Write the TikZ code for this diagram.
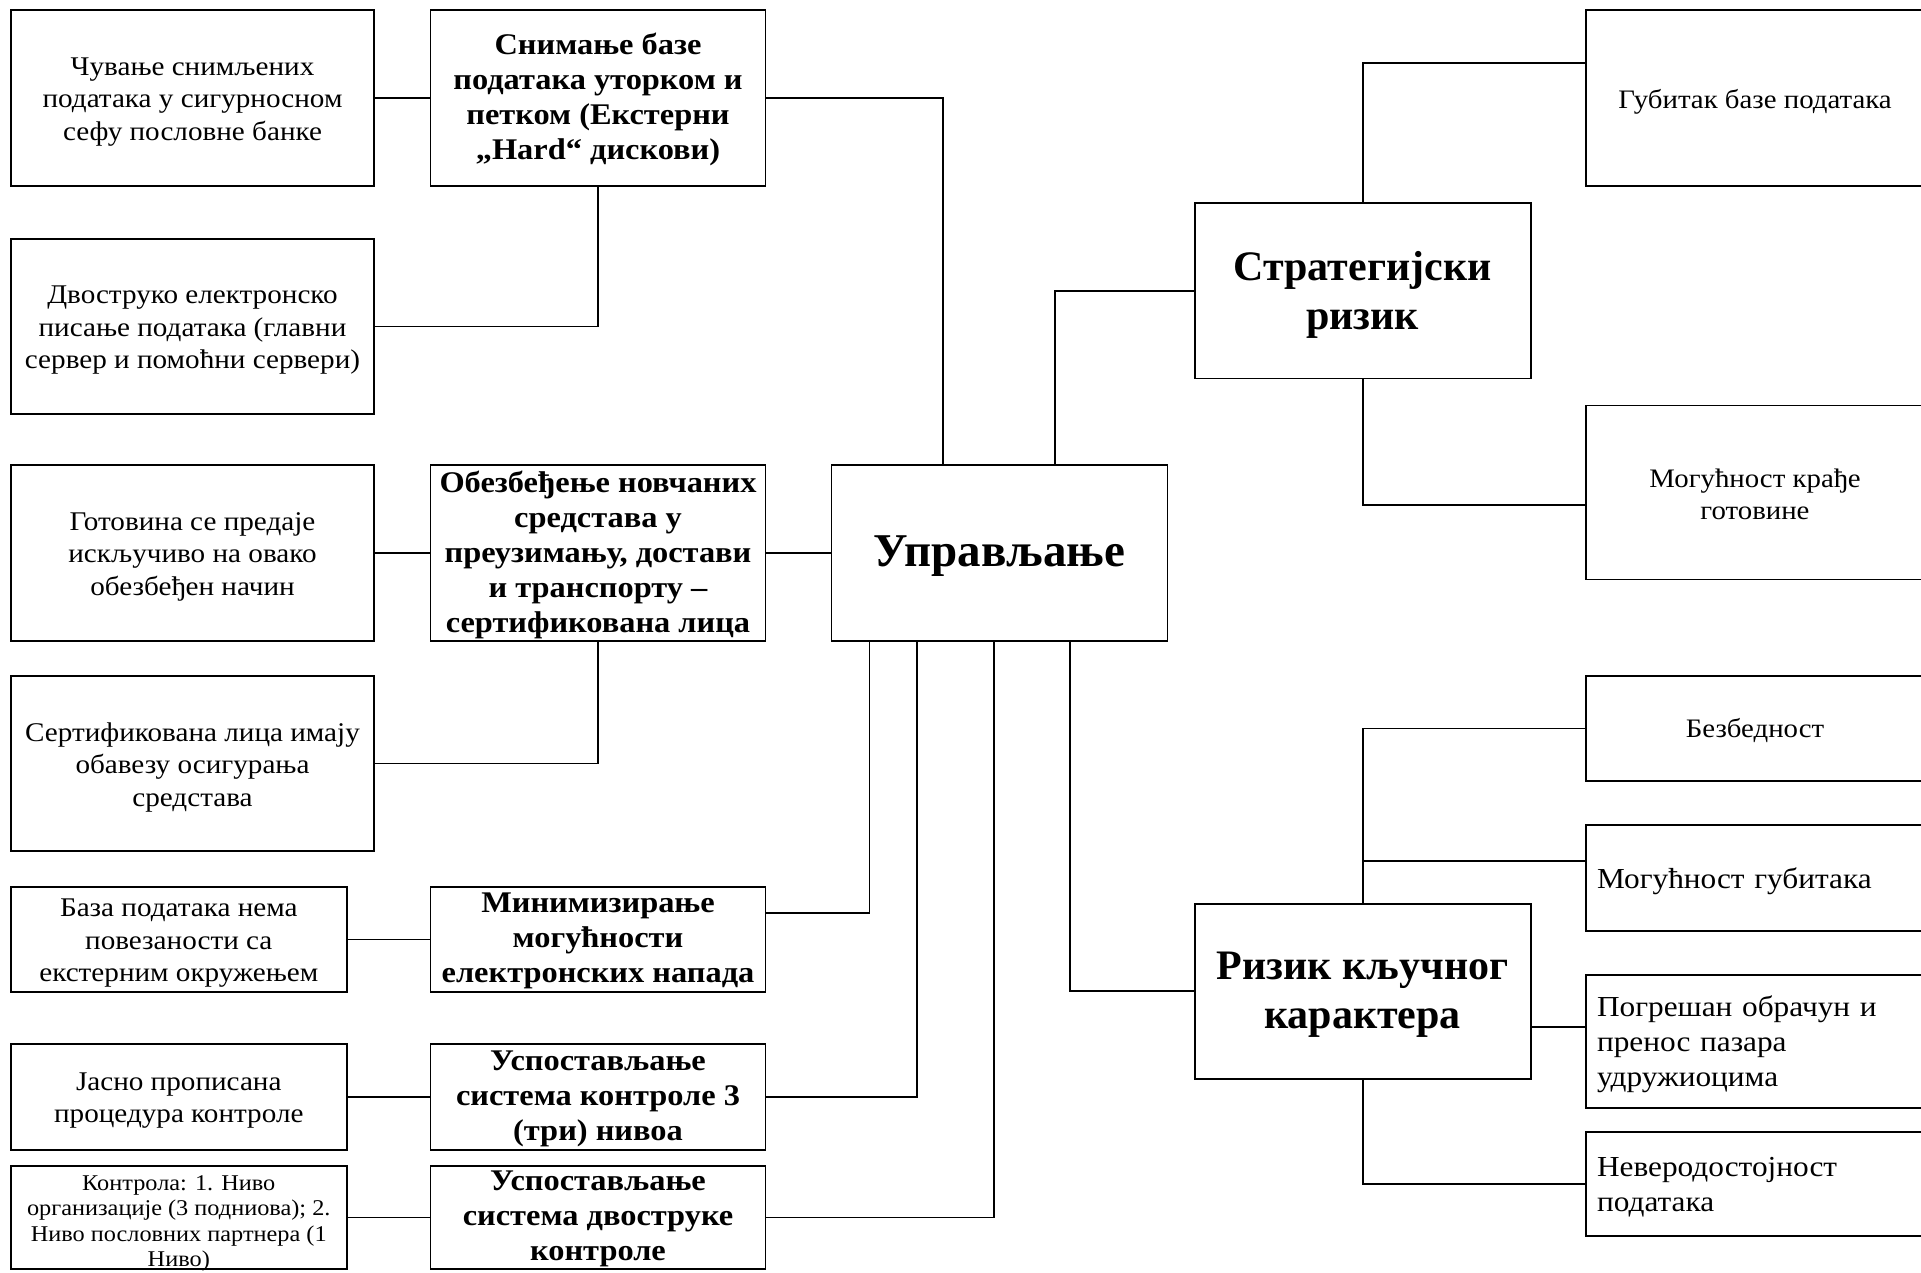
\documentclass[tikz,border=0pt]{standalone}
\usepackage{fontspec}
\setmainfont{Liberation Serif}[FakeStretch=1.08]
\newfontfamily\headfont{Liberation Serif}
\begin{document}
\begin{tikzpicture}[x=1pt,y=-1pt,
  bx/.style={draw, line width=1.8pt, inner sep=0pt, outer sep=0pt},
  ln/.style={line width=1.8pt},
  lt/.style={font=\fontsize{27}{32.5}\selectfont, align=center, inner sep=0pt, yshift=-3.7pt},
  sm/.style={font=\fontsize{22.5}{25.4}\selectfont, align=center, inner sep=0pt, yshift=-6pt},
  bd/.style={font=\fontsize{30}{35}\selectfont\bfseries, align=center, inner sep=0pt, yshift=-1.5pt},
  bg/.style={font=\headfont\fontsize{42}{49}\selectfont\bfseries, align=center, inner sep=0pt},
  rt/.style={font=\fontsize{26.7}{32}\selectfont, align=center, inner sep=0pt},
  rl/.style={font=\fontsize{29}{35}\selectfont, align=left, text width=316pt, inner ysep=0pt, inner xsep=11pt, yshift=-3pt}
]
\useasboundingbox (0,0) rectangle (1921,1272);
\clip (0,0) rectangle (1921,1272);

% left column
\node[bx,minimum width=363pt,minimum height=176pt,label={[name=a1t,lt]center:{Чување снимљених\\података у сигурносном\\сефу пословне банке}}] (a1) at (192.5,98) {};
\node[bx,minimum width=363pt,minimum height=175pt,label={[name=a2t,lt]center:{Двоструко електронско\\писање података (главни\\сервер и помоћни сервери)}}] (a2) at (192.5,326.5) {};
\node[bx,minimum width=363pt,minimum height=176pt,label={[name=a3t,lt]center:{Готовина се предаје\\искључиво на овако\\обезбеђен начин}}] (a3) at (192.5,553) {};
\node[bx,minimum width=363pt,minimum height=175pt,label={[name=a4t,lt]center:{Сертификована лица имају\\обавезу осигурања\\средстава}}] (a4) at (192.5,763.5) {};
\node[bx,minimum width=335.6pt,minimum height=105pt,label={[name=a5t,lt]center:{База података нема\\повезаности са\\екстерним окружењем}}] (a5) at (178.8,939.5) {};
\node[bx,minimum width=335.6pt,minimum height=106pt,label={[name=a6t,lt]center:{Јасно прописана\\процедура контроле}}] (a6) at (178.8,1097) {};
\node[bx,minimum width=335.6pt,minimum height=103pt,label={[name=a7t,sm]center:{Контрола: 1. Ниво\\организације (3 подниова); 2.\\Ниво пословних партнера (1\\Ниво)}}] (a7) at (178.8,1217.5) {};

% middle column
\node[bx,minimum width=335pt,minimum height=176pt,label={[name=b1t,bd]center:{Снимање базе\\података уторком и\\петком (Екстерни\\„Hard“ дискови)}}] (b1) at (598,98) {};
\node[bx,minimum width=335pt,minimum height=176pt,label={[name=b2t,bd]center:{Обезбеђење новчаних\\средстава у\\преузимању, достави\\и транспорту –\\сертификована лица}}] (b2) at (598,553) {};
\node[bx,minimum width=335pt,minimum height=105pt,label={[name=b3t,bd]center:{Минимизирање\\могућности\\електронских напада}}] (b3) at (598,939.5) {};
\node[bx,minimum width=335pt,minimum height=106pt,label={[name=b4t,bd]center:{Успостављање\\система контроле 3\\(три) нивоа}}] (b4) at (598,1097) {};
\node[bx,minimum width=335pt,minimum height=103pt,label={[name=b5t,bd]center:{Успостављање\\система двоструке\\контроле}}] (b5) at (598,1217.5) {};

% centre
\node[bx,font=\headfont\fontsize{47}{54}\selectfont\bfseries,minimum width=336pt,minimum height=176pt,text height=37pt] (c) at (999.5,553) {Управљање};

% risks
\node[bx,minimum width=336pt,minimum height=175.4pt,label={[name=st,bg,yshift=-4.3pt]center:{Стратегијски\\ризик}}] (s) at (1362.6,290.7) {};
\node[bx,minimum width=336pt,minimum height=174.7pt,label={[name=rt,bg,yshift=-3pt]center:{Ризик кључног\\карактера}}] (r) at (1362.6,991.3) {};

% right column
\node[bx,minimum width=338pt,minimum height=176pt,label={[name=g1t,rt,yshift=-3.7pt]center:{Губитак базе података}}] (g1) at (1755,98) {};
\node[bx,minimum width=338pt,minimum height=174pt,label={[name=g2t,rt,yshift=-1.8pt]center:{Могућност крађе\\готовине}}] (g2) at (1755,492.5) {};
\node[bx,minimum width=338pt,minimum height=105pt,label={[name=r1t,rt,yshift=-2.4pt]center:{Безбедност}}] (r1) at (1755,728.5) {};
\node[bx,minimum width=338pt,minimum height=105.7pt,label={[name=r2t,rl]center:{Могућност губитака}}] (r2) at (1755,878) {};
\node[bx,minimum width=338pt,minimum height=132.4pt,label={[name=r3t,rl]center:{Погрешан обрачун и\\пренос пазара\\удружиоцима}}] (r3) at (1755,1041.5) {};
\node[bx,minimum width=338pt,minimum height=104pt,label={[name=r4t,rl]center:{Неверодостојност\\података}}] (r4) at (1755,1184) {};

% connectors left
\draw[ln] (a1.east) -- (b1.west);
\draw[ln] (b1.south) |- (a2.east);
\draw[ln] (a3.east) -- (b2.west);
\draw[ln] (b2.south) |- (a4.east);
\draw[ln] (a5.east) -- (b3.west);
\draw[ln] (a6.east) -- (b4.west);
\draw[ln] (a7.east) -- (b5.west);

% connectors to centre
\draw[ln] (b1.east) -| ([xshift=111.4pt]c.north west);
\draw[ln] (b2.east) -- (c.west);
\draw[ln] ([yshift=26.5pt]b3.east) -| ([xshift=38pt]c.south west);
\draw[ln] (b4.east) -| ([xshift=85.7pt]c.south west);
\draw[ln] (b5.east) -| ([xshift=162.1pt]c.south west);

% centre to risks
\draw[ln] ([xshift=223.4pt]c.north west) |- (s.west);
\draw[ln] ([xshift=238.7pt]c.south west) |- (r.west);

% strategic risk
\draw[ln] (s.north) |- ([yshift=35pt]g1.west);
\draw[ln] (s.south) |- ([yshift=-12.5pt]g2.west);

% key risk
\draw[ln] (r.north) |- (r1.west);
\draw[ln] (r.north) |- ([yshift=17pt]r2.west);
\draw[ln] ([yshift=-35.7pt]r.east) -- ([yshift=14.5pt]r3.west);
\draw[ln] (r.south) |- (r4.west);
\end{tikzpicture}
\end{document}
